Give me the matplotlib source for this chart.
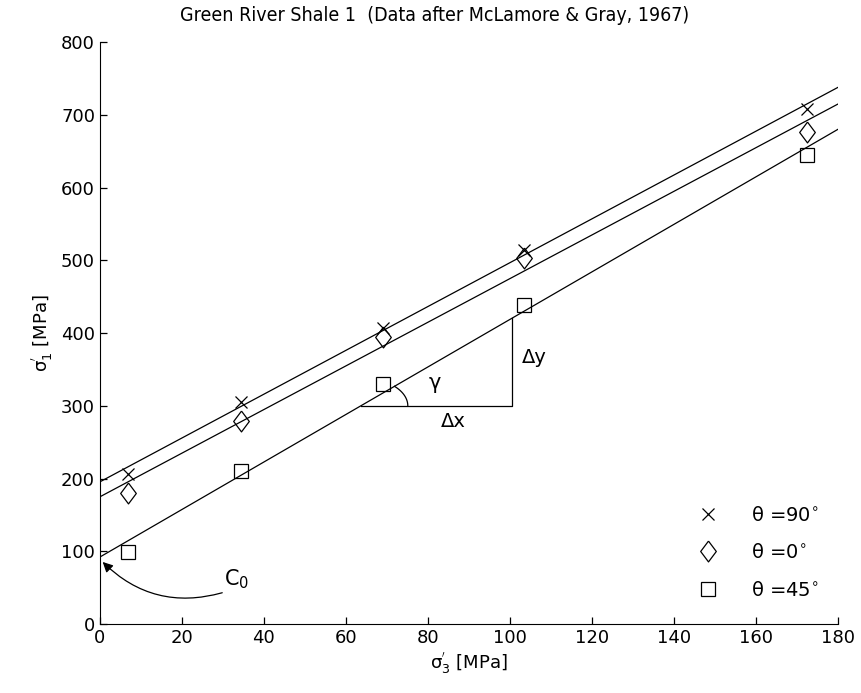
import matplotlib.pyplot as plt
import numpy as np
from matplotlib.patches import FancyArrowPatch

# Confining stress sigma'_3 (MPa) and peak stress sigma'_1 (MPa)
sigma3 = [6.9, 34.5, 69.0, 103.4, 172.4]
sigma1_90 = [206, 305, 407, 515, 708]
sigma1_0 = [180, 279, 394, 503, 677]
sigma1_45 = [99, 210, 330, 438, 645]

labels = ["θ =90$^{\\circ}$", "θ =0$^{\\circ}$", "θ =45$^{\\circ}$"]

plt.rcParams["mathtext.fontset"] = "dejavusans"
plt.rcParams["font.size"] = 13

fig = plt.figure(figsize=(8.61, 6.93), dpi=100)
ax = fig.add_axes([0.116, 0.0996, 0.857, 0.8394])

# slender diamond marker
diamond = [(0, 1), (0.75, 0), (0, -1), (-0.75, 0), (0, 1)]

xs = np.array([0, 180])
series = [(sigma1_90, "x", 9), (sigma1_0, diamond, 15), (sigma1_45, "s", 10)]
fits = []
for (ys, mk, ms), lab in zip(series, labels):
    ax.plot(sigma3, ys, linestyle="none", marker=mk, markersize=ms,
            markerfacecolor="none", markeredgecolor="k", markeredgewidth=0.9,
            label=lab)
    slope, icpt = np.polyfit(sigma3, ys, 1)
    fits.append((slope, icpt))
    ax.plot(xs, icpt + slope * xs, color="k", lw=0.9)

ax.set_xlim(0, 180)
ax.set_ylim(0, 800)
ax.set_xticks(np.arange(0, 181, 20))
ax.set_yticks(np.arange(0, 801, 100))
ax.spines["top"].set_visible(False)
ax.spines["right"].set_visible(False)
ax.tick_params(direction="in", length=5, width=0.9, labelsize=13)
ax.set_xlabel("σ$^{'}_{3}$ [MPa]", fontsize=13, labelpad=2)
ax.set_ylabel("σ$^{'}_{1}$ [MPa]", fontsize=13, labelpad=4)

fig.text(0.505, 0.992, "Green River Shale 1  (Data after McLamore & Gray, 1967)",
         ha="center", va="top", fontsize=14, fontstretch="condensed")

ax.legend(loc="lower right", frameon=False, fontsize=14, handletextpad=1.2,
          labelspacing=0.95, borderaxespad=0.4, bbox_to_anchor=(0.995, 0.015))

# slope triangle on the theta = 45 line
slope, icpt = fits[2]
y0 = 300
x0 = (y0 - icpt) / slope
x1 = 100.5
ax.plot([x0, x1, x1], [y0, y0, icpt + slope * x1], color="k", lw=0.9)

# angle arc (elliptical) built in pixel space
p0 = ax.transData.transform((x0, y0))
p1 = ax.transData.transform((x1, icpt + slope * x1))
ang = np.arctan2(p1[1] - p0[1], p1[0] - p0[0])
a, b = 47, 28
t_end = np.arctan(a * np.tan(ang) / b)
t = np.linspace(0, t_end, 40)
pts = np.column_stack([p0[0] + a * np.cos(t), p0[1] + b * np.sin(t)])
arc = ax.transData.inverted().transform(pts)
ax.plot(arc[:, 0], arc[:, 1], color="k", lw=0.9)

ax.text(81.7, 332, "γ", fontsize=15, ha="center", va="center")
ax.text(86.3, 279, "Δx", fontsize=14, ha="center", va="center")
ax.text(103.0, 366, "Δy", fontsize=14, ha="left", va="center")

# intercept C0 with curved pointer
ax.text(30.2, 62, "C$_0$", fontsize=15, ha="left", va="center")
ax.add_patch(FancyArrowPatch((30.5, 44), (0.2, 88),
                             connectionstyle="arc3,rad=-0.3",
                             arrowstyle="-|>", mutation_scale=15,
                             color="k", lw=0.9, clip_on=False))

fig.savefig("out.png", dpi=100)
